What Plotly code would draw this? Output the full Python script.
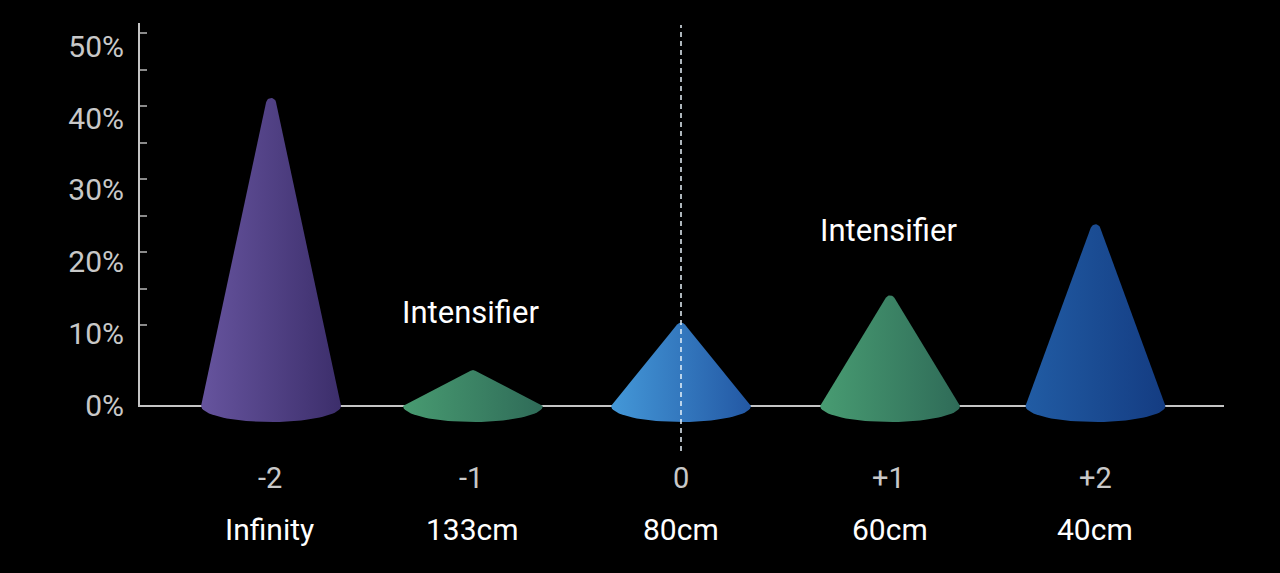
import numpy as np
import plotly.graph_objects as go

steps = [-2, -1, 0, 1, 2]
step_labels = ["-2", "-1", "0", "+1", "+2"]
distance_labels = ["Infinity", "133cm", "80cm", "60cm", "40cm"]
values = [42.9, 5.0, 11.6, 15.4, 25.3]
cone_offsets = [0.01, -0.01, 0.0, 0.015, 0.012]
step_label_offsets = [0.005, -0.02, 0.0, 0.005, 0.01]
distance_label_offsets = [0.0, -0.01, 0.0, 0.015, 0.01]
left_colors = ["#66549e", "#489b71", "#4498d8", "#489c72", "#215ca4"]
right_colors = ["#3c2e6b", "#2f6b58", "#2358a4", "#2f6b58", "#143c82"]
note_text = "Intensifier"
note_steps = [-1.02, 1.005]
note_values = [13.05, 24.5]
y_label_ticks = [0, 10, 20, 30, 40, 50]
y_label_text = ["0%", "10%", "20%", "30%", "40%", "50%"]
minor_ticks = [10, 15, 20, 25, 30, 35, 40, 45, 50]

W, H = 1280, 573
STEP_PX = 206.0
X0_PX = 681.0
PLOT_LEFT, PLOT_RIGHT, PLOT_TOP, ZERO_PX, AXIS_BOTTOM = 140, 1224, 23, 406, 405
PAGE_BOTTOM = H
PX_PER_PCT = 7.18
LABEL_PX_PER_PCT = 7.17
TICK_PX_PER_PCT = 7.3
TICK_ZERO_PX = 398
HALF_W_PX = 70.0
TIP_R_PX = 5.0
BASE_D_PX = 16.0


def cone_outline(cx, top):
    """Outline in axis units: base half-ellipse, sides, and a tip arc tangent to both sides."""
    h = top * PX_PER_PCT
    hc = h - TIP_R_PX
    a = np.arctan(HALF_W_PX / h)
    for _ in range(30):
        a = np.arctan(HALF_W_PX / (hc + TIP_R_PX / np.sin(a)))
    t = np.linspace(0, np.pi, 40)
    bx = HALF_W_PX * np.cos(t)
    by = -BASE_D_PX * np.sin(t)
    theta = np.linspace(np.pi - a, a, 14)
    tx = TIP_R_PX * np.cos(theta)
    ty = hc + TIP_R_PX * np.sin(theta)
    xs = np.r_[bx, tx, bx[0]]
    ys = np.r_[by, ty, by[0]]
    return cx + xs / STEP_PX, ys / PX_PER_PCT


fig = go.Figure()
for ax in ("y", "y2"):
    fig.add_trace(go.Scatter(x=[0], y=[0], xaxis="x", yaxis=ax, mode="markers",
                             marker=dict(opacity=0), hoverinfo="skip", showlegend=False))
for s, off, v, lc, rc in zip(steps, cone_offsets, values, left_colors, right_colors):
    xs, ys = cone_outline(s + off, v)
    fig.add_trace(go.Scatter(
        x=xs, y=ys, xaxis="x2", yaxis="y3", mode="lines", line=dict(width=0), fill="toself",
        fillgradient=dict(type="horizontal", colorscale=[[0, lc], [1, rc]]),
        hoverinfo="skip", showlegend=False,
    ))

fig.add_trace(go.Scatter(
    x=[0, 0], y=[(ZERO_PX - 451) / PX_PER_PCT, (ZERO_PX - 25) / PX_PER_PCT],
    xaxis="x2", yaxis="y3", mode="lines", line=dict(color="#e8f2fa", width=1.5, dash="5px,4px"),
    hoverinfo="skip", showlegend=False,
))

axis_color = "#c4c4c4"
font = "Roboto"
plot_h = PAGE_BOTTOM - PLOT_TOP
axis_bottom_frac = (PAGE_BOTTOM - AXIS_BOTTOM) / plot_h
x_range = [(PLOT_LEFT - X0_PX) / STEP_PX, (PLOT_RIGHT - X0_PX) / STEP_PX]
fig.update_layout(
    width=W, height=H, plot_bgcolor="rgba(0,0,0,0)", paper_bgcolor="#000000",
    margin=dict(l=PLOT_LEFT, r=W - PLOT_RIGHT, t=PLOT_TOP, b=H - PAGE_BOTTOM, pad=0),
    showlegend=False,
    xaxis=dict(
        range=x_range, anchor="y", automargin=False, showgrid=False, zeroline=False,
        showticklabels=False, ticks="",
        showline=True, linecolor=axis_color, linewidth=2, layer="below traces",
    ),
    xaxis2=dict(range=x_range, anchor="y3", visible=False, automargin=False),
    yaxis=dict(
        domain=[axis_bottom_frac, 1], anchor="x", automargin=False,
        range=[(TICK_ZERO_PX - AXIS_BOTTOM) / TICK_PX_PER_PCT, (TICK_ZERO_PX - PLOT_TOP) / TICK_PX_PER_PCT],
        tickvals=minor_ticks, ticks="inside", ticklen=7, tickwidth=1.5, tickcolor="#8a8a8a",
        showticklabels=False, showgrid=False, zeroline=False,
        showline=True, linecolor=axis_color, linewidth=2, layer="below traces",
    ),
    yaxis2=dict(
        domain=[axis_bottom_frac, 1], overlaying="y", side="left", anchor="x", automargin=False,
        range=[0, (AXIS_BOTTOM - PLOT_TOP) / LABEL_PX_PER_PCT],
        tickvals=y_label_ticks, ticktext=y_label_text, ticks="",
        tickfont=dict(family=font, size=30, color="#c8c8c8"),
        ticklabelstandoff=15, showgrid=False, zeroline=False, showline=False,
    ),
    yaxis3=dict(
        domain=[0, 1], anchor="x2", automargin=False,
        range=[(ZERO_PX - PAGE_BOTTOM) / PX_PER_PCT, (ZERO_PX - PLOT_TOP) / PX_PER_PCT],
        visible=False, showgrid=False, zeroline=False,
    ),
)

for s, off, a in zip(steps, step_label_offsets, step_labels):
    fig.add_annotation(x=s + off, y=(ZERO_PX - 478) / PX_PER_PCT, xref="x2", yref="y3", text=a, showarrow=False,
                       font=dict(family=font, size=29, color="#c8c8c8"), yanchor="middle")
for s, off, b in zip(steps, distance_label_offsets, distance_labels):
    fig.add_annotation(x=s + off, y=(ZERO_PX - 529) / PX_PER_PCT, xref="x2", yref="y3", text=b, showarrow=False,
                       font=dict(family=font, size=30, color="#ffffff"), yanchor="middle")
for s, v in zip(note_steps, note_values):
    fig.add_annotation(x=s, y=v, xref="x2", yref="y3", text=note_text, showarrow=False,
                       font=dict(family=font, size=31, color="#ffffff"), yanchor="middle")

fig.write_html("out.html", config={"displayModeBar": False},
               post_script="document.body.style.margin='0';")
